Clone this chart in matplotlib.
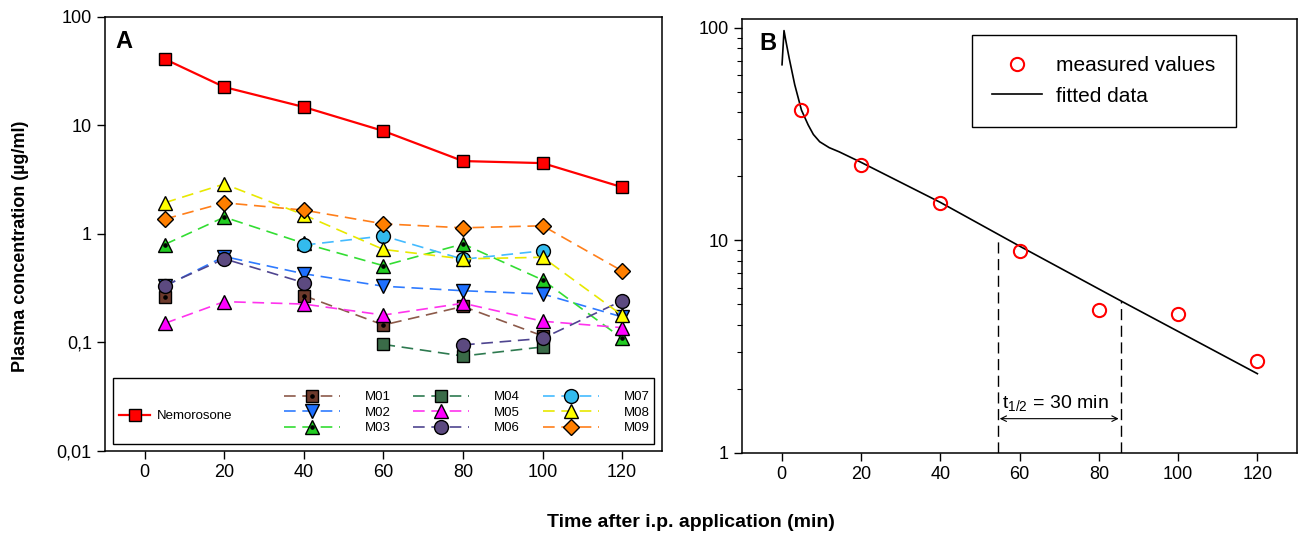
import numpy as np
import matplotlib
matplotlib.use('Agg')
import matplotlib.pyplot as plt
from matplotlib.patches import Rectangle
from matplotlib.legend_handler import HandlerTuple
from matplotlib.ticker import FixedLocator, FuncFormatter, LogLocator, NullLocator, NullFormatter

plt.rcParams['font.family'] = ['Liberation Sans', 'DejaVu Sans']
plt.rcParams['mathtext.fontset'] = 'custom'
plt.rcParams['mathtext.rm'] = 'Liberation Sans'

nan = np.nan

# Panel A - plasma levels of nemorosone and metabolites (µg/ml)
times = [5, 20, 40, 60, 80, 100, 120]
nemorosone = [41, 22.6, 14.8, 8.9, 4.7, 4.5, 2.7]
m01 = [0.26, nan, 0.27, 0.145, 0.215, 0.115, nan]
m02 = [0.33, 0.62, 0.43, 0.33, 0.30, 0.28, 0.172]
m03 = [0.80, 1.43, 0.82, 0.51, 0.81, 0.377, 0.109]
m04 = [nan, nan, nan, 0.096, 0.075, 0.091, nan]
m05 = [0.150, 0.238, 0.226, 0.179, 0.23, 0.157, 0.137]
m06 = [0.334, 0.59, 0.356, nan, 0.095, 0.109, 0.243]
m07 = [nan, nan, 0.79, 0.96, 0.585, 0.70, nan]
m08 = [1.94, 2.89, 1.5, 0.72, 0.59, 0.61, 0.178]
m09 = [1.37, 1.94, 1.66, 1.24, 1.14, 1.19, 0.456]
met_names = ['M01', 'M02', 'M03', 'M04', 'M05', 'M06', 'M07', 'M08', 'M09']
met_values = [m01, m02, m03, m04, m05, m06, m07, m08, m09]

measured = [41, 22.6, 15.0, 8.9, 4.7, 4.5, 2.7]
fit_t = [0.1, 0.6, 1.0, 1.9, 3.3, 5, 6.7, 8, 9.6, 12, 14.5, 20, 40, 60, 85.5, 120]
fit_c = [67, 97, 88, 72, 54, 41, 34.9, 31.5, 29.1, 27.3, 26.1, 23.3, 15.1, 9.4, 5.2, 2.36]
half_t = [54.5, 85.5]
half_c = [10.4, 5.2]

# marker, face colour, line colour, marker size, black dot inside
styles = [
    ('s', '#6e3a2c', '#8c5a4a', 9, True),
    ('v', '#1e70ff', '#2f7bff', 10, False),
    ('^', '#22cc22', '#33dd33', 10, True),
    ('s', '#3a6b48', '#2e7a50', 9, False),
    ('^', '#ff00ff', '#ff33ee', 10, False),
    ('o', '#5c4a80', '#4f4590', 10, False),
    ('o', '#33bbee', '#44bbff', 10, False),
    ('^', '#ffff00', '#e8e800', 10, False),
    ('D', '#ff7f00', '#ff7f1a', 8.5, False),
]

fig = plt.figure(figsize=(12.99, 5.36), dpi=100)
axA = fig.add_axes([0.0808, 0.1586, 0.4288, 0.8097])
axB = fig.add_axes([0.5712, 0.1549, 0.4273, 0.8097])

# ---- panel A ----
nem_line, = axA.plot(times, nemorosone, color='#ff0000', lw=1.6, marker='s', ms=9,
                     mfc='#ff0000', mec='black', mew=1, zorder=4)
handles = []
for vals, (mk, fc, lc, ms, dot) in zip(met_values, styles):
    ln, = axA.plot(times, vals, color=lc, lw=1.2, ls=(0, (7, 4)), marker=mk, ms=ms,
                   mfc=fc, mec='black', mew=1)
    h = ln
    if dot:
        d, = axA.plot(times, vals, ls='none', marker='o', ms=2.3, color='black')
        h = (ln, d)
    handles.append(h)

axA.set_yscale('log')
axA.set_ylim(0.01, 100)
axA.set_xlim(-10, 130)
axA.yaxis.set_major_locator(FixedLocator([0.01, 0.1, 1, 10, 100]))
axA.yaxis.set_major_formatter(FuncFormatter(lambda v, _: ('%g' % v).replace('.', ',')))
axA.yaxis.set_minor_locator(NullLocator())
axA.set_xticks(range(0, 121, 20))

axA.add_patch(Rectangle((0.015, 0.016), 0.971, 0.152, transform=axA.transAxes,
                        facecolor='white', edgecolor='black', lw=1, zorder=5))
leg1 = axA.legend([nem_line], ['Nemorosone'], loc='center left', bbox_to_anchor=(0.026, 0.08),
                  frameon=False, fontsize=9.5, handlelength=2.3, handletextpad=0.55,
                  borderpad=0, borderaxespad=0)
leg1.set_zorder(6)
axA.add_artist(leg1)
leg2 = axA.legend(handles, met_names, ncol=3, loc='center left', bbox_to_anchor=(0.3207, 0.088),
                  frameon=False, fontsize=9.5, handlelength=4.25, handletextpad=1.9,
                  columnspacing=1.7, labelspacing=0.25, borderpad=0, borderaxespad=0,
                  handler_map={tuple: HandlerTuple(ndivide=1)})
leg2.set_zorder(6)
axA.text(0.018, 0.97, 'A', transform=axA.transAxes, fontsize=17, fontweight='bold', va='top')

# ---- panel B ----
fit_line, = axB.plot(fit_t, fit_c, color='black', lw=1.2)
meas_pts, = axB.plot(times, measured, ls='none', marker='o', ms=9.5, mfc='none',
                     mec='#ff0000', mew=1.5)
for t, c in zip(half_t, half_c):
    axB.plot([t, t], [1, c], color='black', lw=1, ls=(0, (8, 4)))
axB.annotate('', xy=(half_t[1] - 0.5, 1.45), xytext=(half_t[0] + 0.5, 1.45),
             arrowprops=dict(arrowstyle='<->', lw=0.8, color='black', shrinkA=0, shrinkB=0))
axB.text(half_t[0] + 1, 1.62, r't$_{\mathrm{1/2}}$ = 30 min', fontsize=14, va='baseline')

axB.set_yscale('log')
axB.set_ylim(1, 110)
axB.set_xlim(-10, 130)
axB.yaxis.set_major_locator(FixedLocator([1, 10, 100]))
axB.yaxis.set_major_formatter(FuncFormatter(lambda v, _: '%g' % v))
axB.yaxis.set_minor_locator(LogLocator(base=10, subs=np.arange(2, 10)))
axB.yaxis.set_minor_formatter(NullFormatter())
axB.set_xticks(range(0, 121, 20))
leg = axB.legend([meas_pts, fit_line], ['measured values', 'fitted data'], loc='upper right',
                 bbox_to_anchor=(0.89, 0.962), borderaxespad=0, fontsize=15, fancybox=False,
                 edgecolor='black', framealpha=1, borderpad=1.0, handlelength=2.4,
                 handletextpad=0.65, labelspacing=0.55, numpoints=1)
leg.get_frame().set_linewidth(1)
axB.text(0.032, 0.97, 'B', transform=axB.transAxes, fontsize=17, fontweight='bold', va='top')

for ax in (axA, axB):
    for sp in ax.spines.values():
        sp.set_linewidth(1.1)
    ax.tick_params(which='major', direction='out', length=6, width=1, labelsize=13,
                   top=False, right=False)
    ax.tick_params(which='minor', direction='out', length=3.5, width=0.8, top=False, right=False)

fig.text(0.0154, 0.541, 'Plasma concentration (µg/ml)', rotation=90, ha='center', va='center',
         fontsize=13, fontweight='bold')
fig.text(0.532, 0.026, 'Time after i.p. application (min)', ha='center', va='center',
         fontsize=14, fontweight='bold')

fig.savefig('out.png', dpi=100)
